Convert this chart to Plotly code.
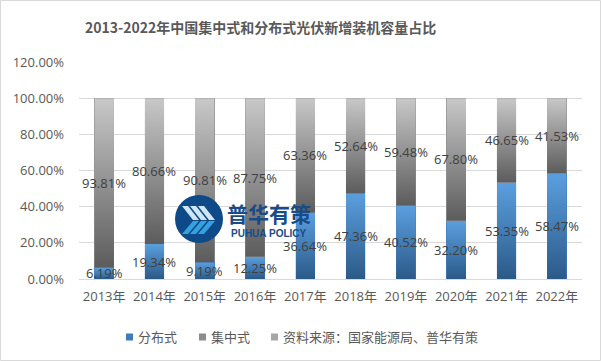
import base64
import plotly.graph_objects as go

# ---------------- data ----------------
years = ["2013年", "2014年", "2015年", "2016年", "2017年",
         "2018年", "2019年", "2020年", "2021年", "2022年"]
distributed = [6.19, 19.34, 9.19, 12.25, 36.64, 47.36, 40.52, 32.20, 53.35, 58.47]
centralized = [93.81, 80.66, 90.81, 87.75, 63.36, 52.64, 59.48, 67.80, 46.65, 41.53]
series_names = ["分布式", "集中式"]
source_note = "资料来源：国家能源局、普华有策"
title_text = "2013-2022年中国集中式和分布式光伏新增装机容量占比"
y_ticks = [0, 20, 40, 60, 80, 100, 120]
y_tick_labels = ["0.00%", "20.00%", "40.00%", "60.00%", "80.00%", "100.00%", "120.00%"]

# ---------------- layout constants ----------------
W, H = 601, 361
L, R, T, B = 79, 19, 62, 82
PW, PH = W - L - R, H - T - B
BAR_W = 0.39
FONT = "Open Sans, Noto Sans CJK SC, sans-serif"
CJK = "Noto Sans CJK SC, sans-serif"
TXT = "#595959"


def px(x):
    return (x - L) / PW


def py(y):
    return (H - B - y) / PH


def grad_uri(top, bottom):
    svg = ("<svg xmlns='http://www.w3.org/2000/svg' width='10' height='100' "
           "viewBox='0 0 10 100' preserveAspectRatio='none'><defs>"
           "<linearGradient id='g' x1='0' y1='0' x2='0' y2='1'>"
           f"<stop offset='0' stop-color='{top}'/><stop offset='1' stop-color='{bottom}'/>"
           "</linearGradient></defs><rect x='0' y='0' width='10' height='100' fill='url(#g)'/></svg>")
    return "data:image/svg+xml;base64," + base64.b64encode(svg.encode()).decode()


BLUE_TOP, BLUE_BOT = "#5b9fdf", "#2b5a88"
GRAY_TOP, GRAY_BOT = "#c8c8c8", "#5c5c5c"
blue_uri = grad_uri(BLUE_TOP, BLUE_BOT)
gray_uri = grad_uri(GRAY_TOP, GRAY_BOT)

xs = list(range(len(years)))

fig = go.Figure()
fig.add_trace(go.Bar(x=xs, y=distributed, name=series_names[0], width=BAR_W,
                     marker=dict(color="#4380bd", line=dict(width=0)), showlegend=False,
                     hoverinfo="skip"))
fig.add_trace(go.Bar(x=xs, y=centralized, name=series_names[1], width=BAR_W,
                     marker=dict(color="#8f8f8f", line=dict(width=0)), showlegend=False,
                     hoverinfo="skip"))

images = []
annotations = []
for i, (d, c) in enumerate(zip(distributed, centralized)):
    images.append(dict(source=blue_uri, xref="x", yref="y", x=i - BAR_W / 2, y=d,
                       sizex=BAR_W, sizey=d, xanchor="left", yanchor="top",
                       sizing="stretch", layer="above"))
    images.append(dict(source=gray_uri, xref="x", yref="y", x=i - BAR_W / 2, y=d + c,
                       sizex=BAR_W, sizey=c, xanchor="left", yanchor="top",
                       sizing="stretch", layer="above"))
    annotations.append(dict(x=i, y=d / 2, xref="x", yref="y", text=f"{d:.2f}%",
                            xanchor="center", yanchor="middle",
                            showarrow=False, font=dict(family=FONT, size=13, color="#404040")))
    annotations.append(dict(x=i, y=d + c / 2, xref="x", yref="y", text=f"{c:.2f}%",
                            xanchor="center", yanchor="middle",
                            showarrow=False, font=dict(family=FONT, size=13, color="#404040")))

# title
annotations.append(dict(x=px(260), y=py(27), xref="paper", yref="paper", text=f"<b>{title_text}</b>",
                        xanchor="center", yanchor="middle",
                        showarrow=False, font=dict(family=CJK, size=14, color=TXT)))

# custom legend
shapes = []
legend_items = [(series_names[0], 126, 136, "#3f7cbb"),
                (series_names[1], 199, 209, "#8c8c8c"),
                (source_note, 271, 281, "#a6a6a6")]
for name, sx, tx, col in legend_items:
    shapes.append(dict(type="rect", xref="paper", yref="paper",
                       x0=px(sx), x1=px(sx + 7), y0=py(333.5), y1=py(340.5),
                       fillcolor=col, line=dict(width=0), layer="above"))
    annotations.append(dict(x=px(tx), y=py(337), xref="paper", yref="paper", text=name,
                            xanchor="left", yanchor="middle", showarrow=False,
                            font=dict(family=FONT, size=13, color=TXT)))

# logo watermark
cx, cy, r = 199, 219, 24
shapes.append(dict(type="circle", xref="paper", yref="paper",
                   x0=px(cx - r), x1=px(cx + r), y0=py(cy + r), y1=py(cy - r),
                   fillcolor="#0e4a88", line=dict(width=0), layer="above"))


def poly(pts):
    return "M " + " L ".join(f"{px(a):.5f},{py(b):.5f}" for a, b in pts) + " Z"


for x0 in (182, 190, 198):
    shapes.append(dict(type="path", xref="paper", yref="paper",
                       path=poly([(x0, 206), (x0 + 6, 206), (x0 + 17, 220), (x0 + 11, 220)]),
                       fillcolor="#cfe6f8", line=dict(width=0), layer="above"))
    shapes.append(dict(type="path", xref="paper", yref="paper",
                       path=poly([(x0 + 11, 221), (x0 + 17, 221), (x0 + 6, 234), (x0, 234)]),
                       fillcolor="#36a1de", line=dict(width=0), layer="above"))

annotations.append(dict(x=px(269), y=py(213), xref="paper", yref="paper", text="<b>普华有策</b>",
                        xanchor="center", yanchor="middle",
                        showarrow=False, font=dict(family=CJK, size=21, color="#174c88")))
annotations.append(dict(x=px(269), y=py(233), xref="paper", yref="paper", text="<b>PUHUA POLICY</b>",
                        xanchor="center", yanchor="middle",
                        showarrow=False, font=dict(family="Liberation Sans, Arial, sans-serif",
                                                    size=10, color="#174c88")))

# outer border
shapes.append(dict(type="rect", xref="paper", yref="paper",
                   x0=px(0.5), x1=px(W - 0.5), y0=py(H - 0.5), y1=py(0.5),
                   line=dict(color="#d9d9d9", width=1), fillcolor="rgba(0,0,0,0)", layer="above"))

fig.update_layout(
    width=W, height=H,
    margin=dict(l=L, r=R, t=T, b=B, autoexpand=False),
    barmode="stack",
    plot_bgcolor="white", paper_bgcolor="white",
    font=dict(family=FONT, size=13, color=TXT),
    xaxis=dict(range=[-0.5, len(years) - 0.5], tickvals=xs, ticktext=years,
               showgrid=False, zeroline=False, showline=False, ticks="",
               ticklabelstandoff=8, tickfont=dict(family=FONT, size=13, color=TXT)),
    yaxis=dict(range=[0, 120], tickvals=y_ticks, ticktext=y_tick_labels,
               showgrid=True, gridcolor="#d9d9d9", gridwidth=1,
               zeroline=True, zerolinecolor="#d9d9d9", zerolinewidth=1,
               showline=False, ticks="", ticklabelstandoff=14,
               tickfont=dict(family=FONT, size=13, color=TXT)),
    images=images,
    shapes=shapes,
    annotations=annotations,
    showlegend=False,
)

fig.write_html("out.html", config={"displayModeBar": False},
               post_script="document.body.style.margin='0';document.body.style.overflow='hidden';")
